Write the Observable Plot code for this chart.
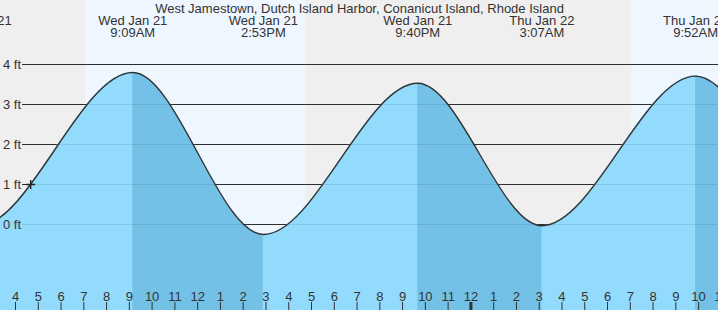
<!DOCTYPE html>
<html><head><meta charset="utf-8">
<script src="https://cdn.jsdelivr.net/npm/d3@7"></script>
<script src="https://cdn.jsdelivr.net/npm/@observablehq/plot@0.6"></script>
<style>html,body{margin:0;padding:0;background:#fff;overflow:hidden}</style>
</head><body><div id="chart"></div>
<script>
// ---- data ----
const title = "West Jamestown, Dutch Island Harbor, Conanicut Island, Rhode Island";
const tideTimes   = ["2026-01-21T02:19", "2026-01-21T09:09", "2026-01-21T14:53", "2026-01-21T21:40", "2026-01-22T03:07", "2026-01-22T09:52", "2026-01-22T16:05"];
const tideHeights = [-0.05, 3.80, -0.25, 3.53, -0.03, 3.71, -0.22];
const eventDays   = ["Wed Jan 21", "Wed Jan 21", "Wed Jan 21", "Wed Jan 21", "Thu Jan 22", "Thu Jan 22", "Thu Jan 22"];
const eventClocks = ["2:19AM", "9:09AM", "2:53PM", "9:40PM", "3:07AM", "9:52AM", "4:05PM"];
const sunriseTimes = ["2026-01-21T07:05", "2026-01-22T07:04"];
const sunsetTimes  = ["2026-01-21T16:45", "2026-01-22T16:46"];
const nowTime = "2026-01-21T04:40";
const nowHeight = 1.0;
const gridFeet   = [0, 1, 2, 3, 4];
const gridLabels = ["0 ft", "1 ft", "2 ft", "3 ft", "4 ft"];
const tickStart = "2026-01-21T04:00";
const tickEnd   = "2026-01-22T12:00";
const tickLabels = ["4","5","6","7","8","9","10","11","12","1","2","3","4","5","6","7","8","9","10","11","12","1","2","3","4","5","6","7","8","9","10","11"];
const midnightTimes = ["2026-01-22T00:00"];
const xDomain = ["2026-01-21T03:20:28", "2026-01-22T10:52:26"];
const yDomain = [-2.15, 5.6];

// ---- helpers ----
const T = s => new Date(s + "Z");
const tide = tideTimes.map((t, i) => ({t: T(t), h: tideHeights[i]}));
const falling = [];
for (let i = 0; i < tide.length - 1; i++) {
  if (tide[i + 1].h < tide[i].h) {
    falling.push({t: tide[i].t, h: tide[i].h, seg: i});
    falling.push({t: tide[i + 1].t, h: tide[i + 1].h, seg: i});
  }
}
const events = tideTimes.map((t, i) => ({t: T(t), label: eventDays[i] + "\n" + eventClocks[i]}));
const sun = sunriseTimes.map((s, i) => ({a: T(s), b: T(sunsetTimes[i])}));
const tickTimes = d3.utcHour.range(T(tickStart), T(tickEnd));
const ticks = tickTimes.map((t, i) => ({t, label: tickLabels[i]}));

// curve with flat tangents at every data point (tide extremes)
class FlatEnds {
  constructor(context) { this._context = context; }
  areaStart() { this._line = 0; }
  areaEnd() { this._line = NaN; }
  lineStart() { this._point = 0; }
  lineEnd() {
    if (this._line || (this._line !== 0 && this._point === 1)) this._context.closePath();
    this._line = 1 - this._line;
  }
  point(x, y) {
    x = +x; y = +y;
    if (this._point === 0) {
      this._point = 1;
      if (this._line) this._context.lineTo(x, y); else this._context.moveTo(x, y);
    } else {
      this._point = 2;
      const k = (x - this._x0) / 3;
      this._context.bezierCurveTo(this._x0 + k, this._y0, x - k, y, x, y);
    }
    this._x0 = x; this._y0 = y;
  }
}
const tideCurve = context => new FlatEnds(context);

const font = "'Liberation Sans', Arial, sans-serif";
const ink = "#333";

const chart = Plot.plot({
  width: 718,
  height: 310,
  margin: 0,
  style: {background: "#EFEFEF", fontFamily: font, fontSize: "13px", color: ink},
  x: {type: "utc", domain: xDomain.map(T), axis: null},
  y: {domain: yDomain, axis: null},
  marks: [
    Plot.rect(sun, {x1: "a", x2: "b", fill: "#EEF6FF", clip: true}),
    Plot.ruleY(gridFeet, {y: d => d, stroke: "#333", strokeWidth: 1, insetLeft: 22}),
    Plot.areaY(tide, {x: "t", y1: yDomain[0], y2: "h", curve: tideCurve, fill: "#93DBFD", clip: true}),
    Plot.areaY(falling, {x: "t", y1: yDomain[0], y2: "h", z: "seg", curve: tideCurve, fill: "#73C1E6", clip: true}),
    Plot.ruleY(gridFeet, {y: d => d, stroke: "#000", strokeOpacity: 0.09, strokeWidth: 1, insetLeft: 22}),
    Plot.line(tide, {x: "t", y: "h", curve: tideCurve, stroke: "#333", strokeWidth: 1.4, clip: true}),
    Plot.ruleX(ticks, {x: "t", stroke: ink, strokeWidth: 1, insetTop: 302}),
    Plot.ruleX(midnightTimes.map(T), {x: d => d, stroke: ink, strokeWidth: 3, insetTop: 302}),
    Plot.text(ticks, {x: "t", text: "label", frameAnchor: "bottom", lineAnchor: "bottom", dy: -10, fill: ink, fontSize: 13, clip: true}),
    Plot.text(gridFeet, {y: d => d, text: (d, i) => gridLabels[i], frameAnchor: "left", textAnchor: "start", lineAnchor: "middle", dx: 2.5, fill: ink, fontSize: 13}),
    Plot.text(events, {x: "t", text: "label", frameAnchor: "top", lineAnchor: "bottom", dy: 36, lineHeight: 0.92, fill: ink, fontSize: 13, clip: true}),
    Plot.text([title], {text: d => d, frameAnchor: "top", lineAnchor: "bottom", dy: 12, fill: ink, fontSize: 13}),
    Plot.dot([{t: T(nowTime), h: nowHeight}], {x: "t", y: "h", symbol: "plus", r: 3, stroke: "#222", strokeWidth: 1.4})
  ]
});
document.getElementById("chart").append(chart);
</script>
</body></html>
